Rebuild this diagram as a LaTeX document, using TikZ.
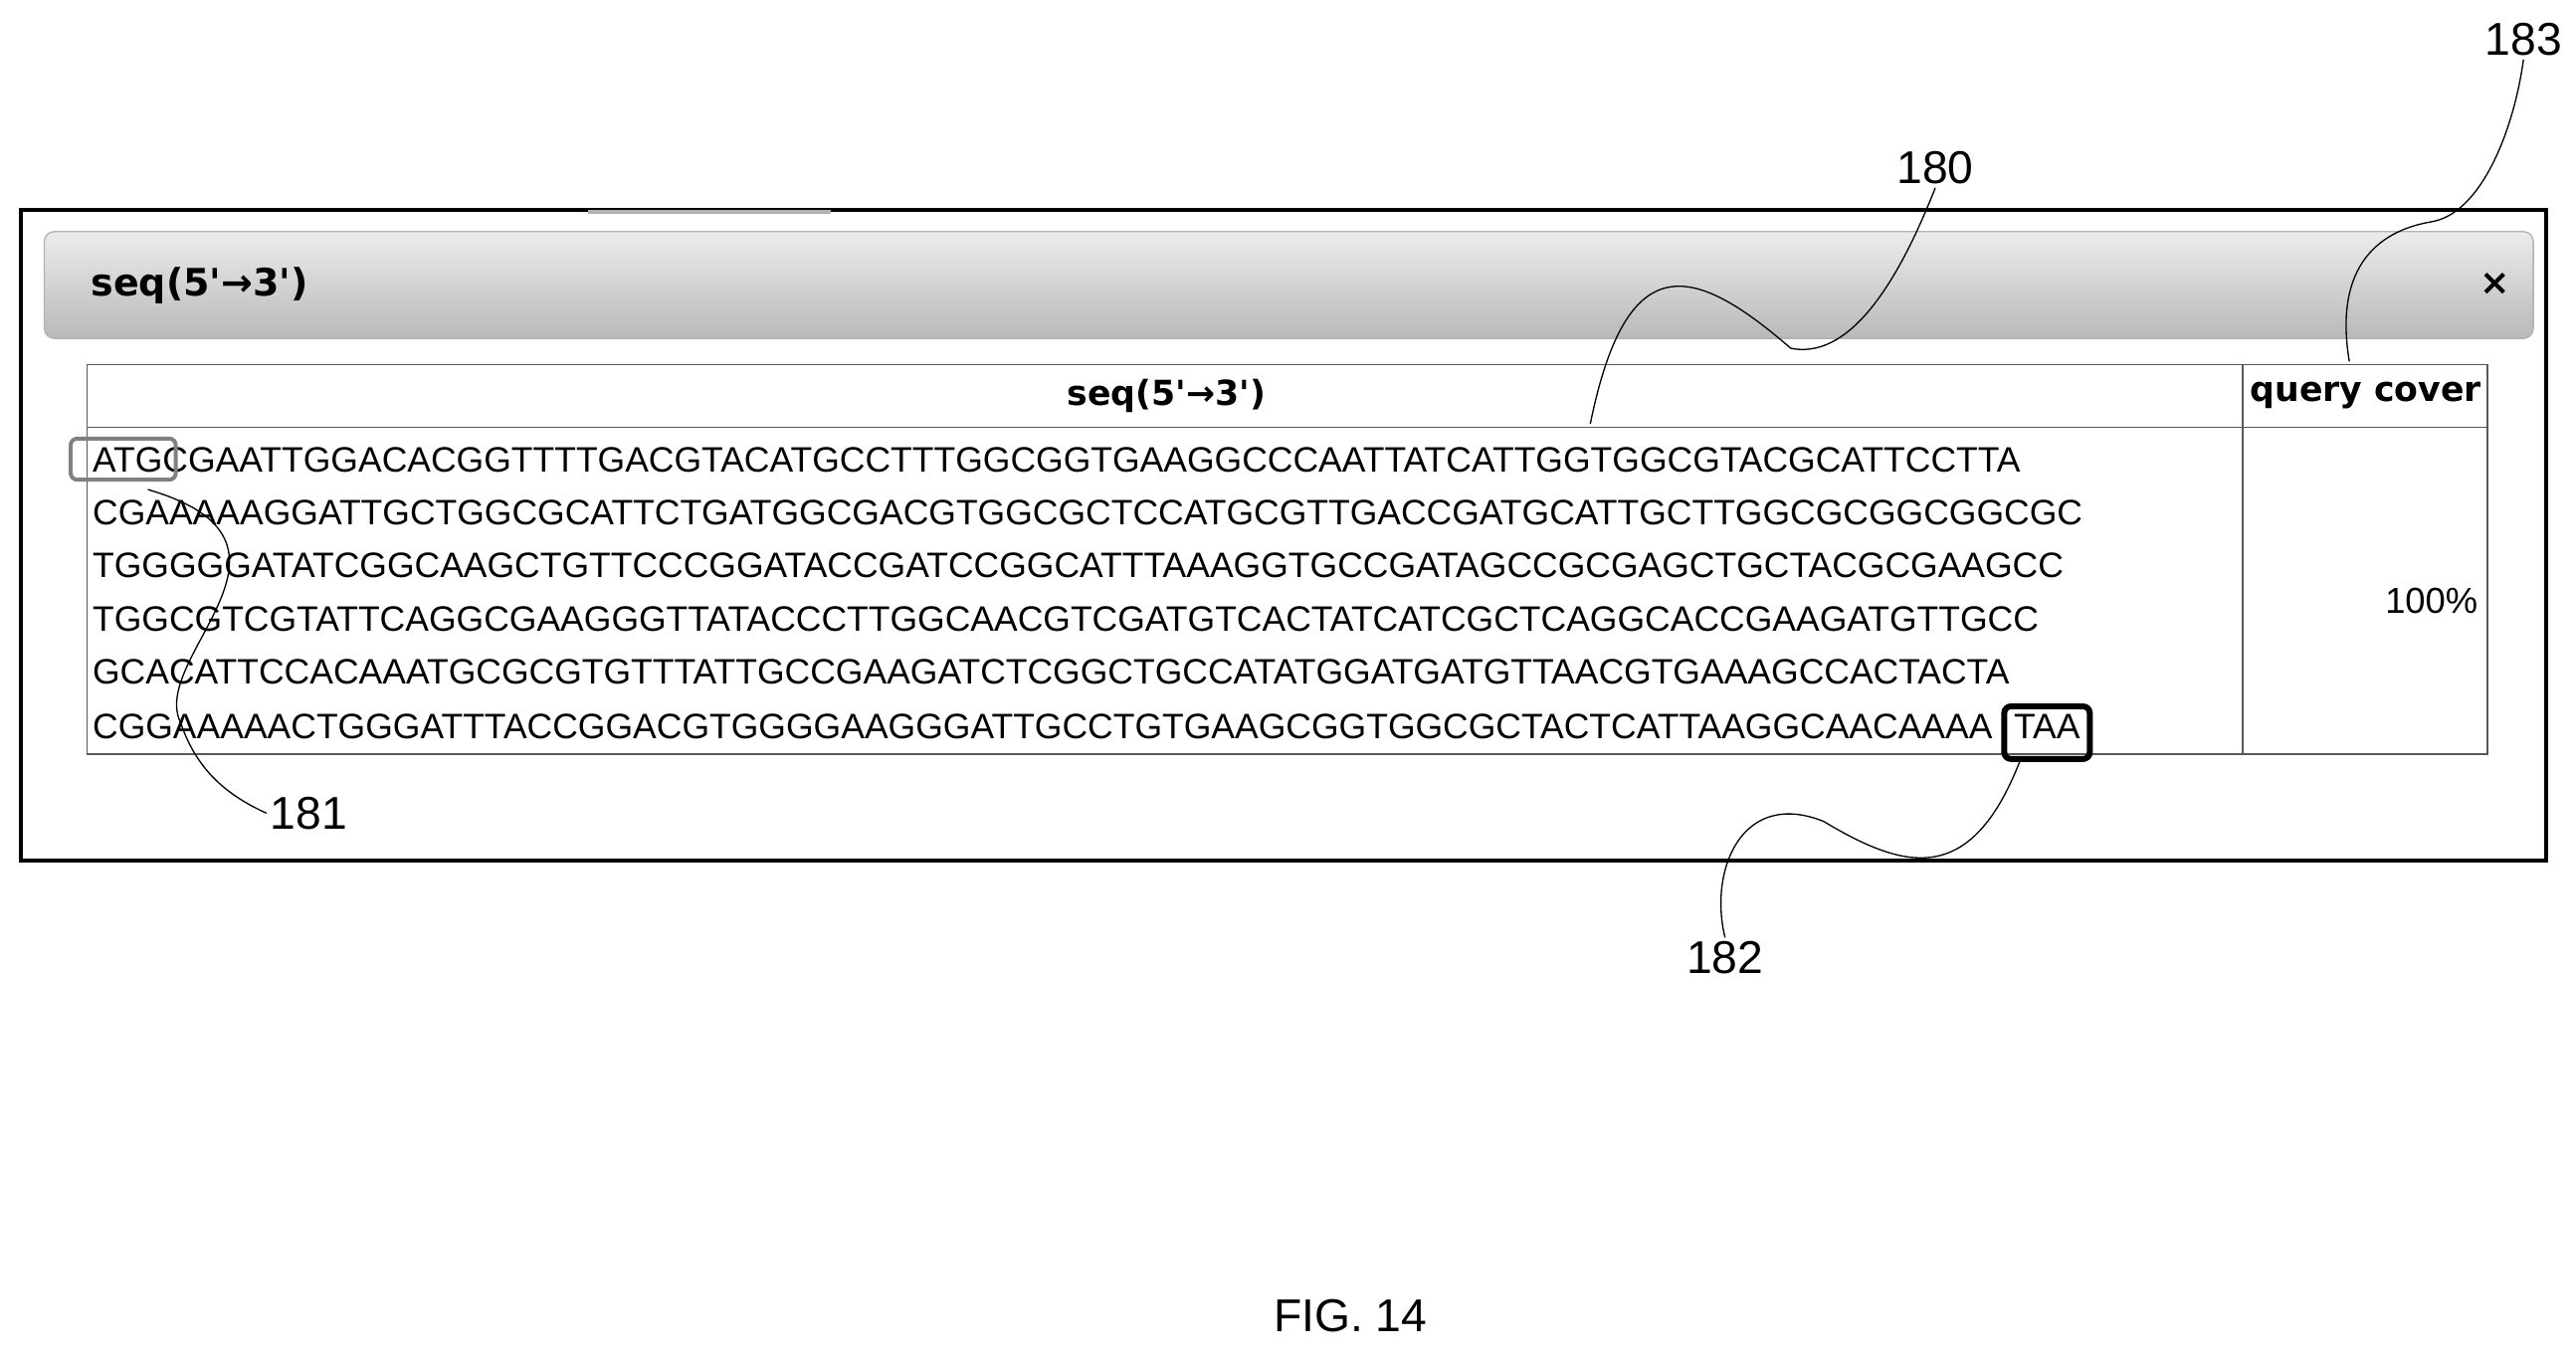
\documentclass[tikz,border=0pt]{standalone}
\usepackage{fontspec}
\setmainfont{Liberation Sans}
\newfontfamily\boldui{DejaVu Sans}
\usetikzlibrary{positioning}
\tikzset{
  seqline/.style={anchor=west, inner sep=0pt, font=\fontsize{10.75}{13}\selectfont},
  headtext/.style={inner sep=0pt, font=\boldui\bfseries\fontsize{10.5}{12}\selectfont},
  reflabel/.style={inner sep=1pt, font=\fontsize{14}{16}\selectfont},
  leader/.style={thin, black},
  codonbox/.style={rounded corners=2pt},
}
\begin{document}
\begin{tikzpicture}[x=0.5pt, y=-0.5pt]
  \useasboundingbox (0,0) rectangle (1568,827);
  % window frame
  \draw[line width=1.2pt] (13,128) rectangle (1550,524);
  \draw[gray!60, line width=1pt] (358,129) -- (506,129);
  % title bar
  \shade[top color=gray!15, bottom color=gray!55, rounded corners=3pt, draw=gray!60]
    (27,141) rectangle (1542,206);
  \node[headtext, anchor=west, font=\boldui\bfseries\fontsize{11.5}{13}\selectfont] (title) at (55,174) {seq(5'→3')};
  \node[headtext, font=\boldui\bfseries\fontsize{11}{13}\selectfont] (close) at (1519,173) {×};
  % table
  \draw[gray!70!black] (53,222) rectangle (1514,459);
  \draw[gray!70!black] (53,260) -- (1514,260);
  \draw[gray!70!black] (1365,222) -- (1365,459);
  \node[headtext] (seqhead) at (710,241) {seq(5'→3')};
  \node[headtext] (qchead) at (1440,241) {query cover};
  \node[inner sep=0pt, font=\fontsize{11}{13}\selectfont] (cover) at (1480,366) {100\%};
  % sequence rows
  \node[seqline] (row1) at (56,280) {ATGCGAATTGGACACGGTTTTGACGTACATGCCTTTGGCGGTGAAGGCCCAATTATCATTGGTGGCGTACGCATTCCTTA};
  \node[seqline] (row2) at (56,312) {CGAAAAAGGATTGCTGGCGCATTCTGATGGCGACGTGGCGCTCCATGCGTTGACCGATGCATTGCTTGGCGCGGCGGCGC};
  \node[seqline] (row3) at (56,344) {TGGGGGATATCGGCAAGCTGTTCCCGGATACCGATCCGGCATTTAAAGGTGCCGATAGCCGCGAGCTGCTACGCGAAGCC};
  \node[seqline] (row4) at (56,377) {TGGCGTCGTATTCAGGCGAAGGGTTATACCCTTGGCAACGTCGATGTCACTATCATCGCTCAGGCACCGAAGATGTTGCC};
  \node[seqline] (row5) at (56,409) {GCACATTCCACAAATGCGCGTGTTTATTGCCGAAGATCTCGGCTGCCATATGGATGATGTTAACGTGAAAGCCACTACTA};
  \node[seqline] (row6) at (56,442) {CGGAAAAACTGGGATTTACCGGACGTGGGGAAGGGATTGCCTGTGAAGCGGTGGCGCTACTCATTAAGGCAACAAAA};
  \node[seqline, anchor=center] (stop) at (1246,442) {TAA};
  % codon boxes
  \draw[codonbox, gray, line width=1.2pt] (43,267) rectangle (107,292);
  \draw[codonbox, black, line width=1.8pt] (1220,430) rectangle (1272,462);
  % reference labels
  \node[reflabel] (l180) at (1178,102) {180};
  \node[reflabel] (l181) at (188,495) {181};
  \node[reflabel] (l182) at (1050,583) {182};
  \node[reflabel] (l183) at (1536,24) {183};
  \coordinate (p180) at (968,258);
  \coordinate (p181) at (90,298);
  \coordinate (p182) at (1230,462);
  \coordinate (p183) at (1430,220);
  \draw[leader] (p180) .. controls (990,150) and (1030,160) .. (1090,212)
    .. controls (1130,220) and (1160,160) .. (l180.south);
  \draw[leader] (p181) .. controls (200,330) and (90,400) .. (110,440)
    .. controls (120,470) and (140,485) .. (l181.west);
  \draw[leader] (p182) .. controls (1200,540) and (1160,530) .. (1110,500)
    .. controls (1060,480) and (1040,530) .. (l182.north);
  \draw[leader] (p183) .. controls (1420,160) and (1450,140) .. (1480,135)
    .. controls (1510,130) and (1530,80) .. (l183.south);
  \node[reflabel] (fig) at (822,801) {FIG. 14};
\end{tikzpicture}
\end{document}
